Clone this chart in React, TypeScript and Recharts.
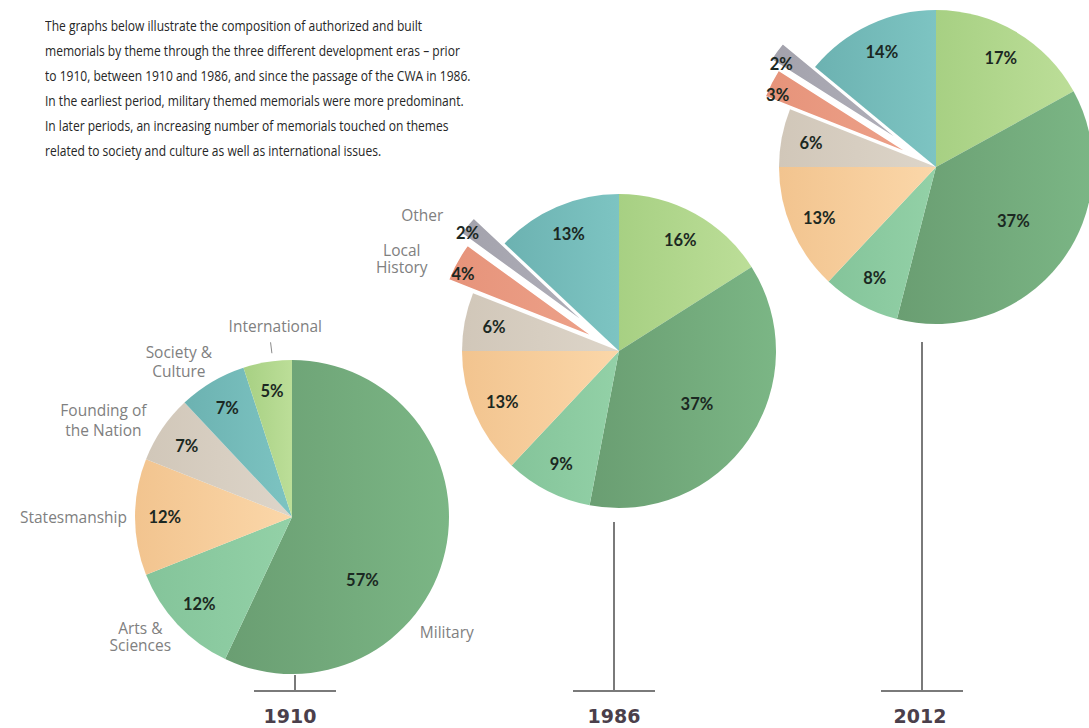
import React from "react";
import { Cell, Pie, PieChart, Sector } from "recharts";

// memorial composition by theme, read clockwise from 12 o'clock
const themes1910 = ["Military", "Arts & Sciences", "Statesmanship", "Founding of the Nation", "Society & Culture", "International"];
const shares1910 = [57, 12, 12, 7, 7, 5];

const themes1986 = ["International", "Military", "Arts & Sciences", "Statesmanship", "Founding of the Nation", "Local History", "Other", "Society & Culture"];
const shares1986 = [16, 37, 9, 13, 6, 4, 2, 13];

const themes2012 = ["International", "Military", "Arts & Sciences", "Statesmanship", "Founding of the Nation", "Local History", "Other", "Society & Culture"];
const shares2012 = [17, 37, 8, 13, 6, 3, 2, 14];

const years = ["1910", "1986", "2012"];

const introLines = [
  "The graphs below illustrate the composition of authorized and built",
  "memorials by theme through the three different development eras \u2013 prior",
  "to 1910, between 1910 and 1986, and since the passage of the CWA in 1986.",
  "In the earliest period, military themed memorials were more predominant.",
  "In later periods, an increasing number of memorials touched on themes",
  "related to society and culture as well as international issues.",
];

// [left shade, right shade]
const themeColors: Record<string, [string, string]> = {
  Military: ["#6a9e72", "#7bb685"],
  "Arts & Sciences": ["#84c49a", "#93d1a7"],
  Statesmanship: ["#f2c48f", "#fbd7a9"],
  "Founding of the Nation": ["#d1c7b9", "#ddd5c9"],
  "Society & Culture": ["#6cb2b1", "#7dc4c2"],
  International: ["#a7d083", "#bcde98"],
  "Local History": ["#e6937a", "#eda189"],
  Other: ["#a3a2ac", "#b0afb9"],
};
const gradId = (name: string) => "g-" + name.replace(/[^A-Za-z]/g, "");

// slices pulled out of the pie, distance in px
const explode: Record<string, number> = { "Local History": 28, Other: 40 };

type NameSpot = { r: number; da: number; anchor: "start" | "middle" | "end"; lines: string[]; gap?: number; tick?: boolean };
type PieLayout = {
  cx: number;
  cy: number;
  r: number;
  stemX: number;
  stemTop: number;
  yearX: number;
  pctNudge?: Record<string, { ratio: number; da: number }>;
  names?: Record<string, NameSpot>;
};

const layouts: PieLayout[] = [
  {
    cx: 292,
    cy: 517,
    r: 157,
    stemX: 295,
    stemTop: 675,
    yearX: 290,
    pctNudge: { Military: { ratio: 0.6, da: -29 } },
    names: {
      Military: { r: 172, da: -29.4, anchor: "start", lines: ["Military"] },
      "Arts & Sciences": { r: 193, da: -5, anchor: "middle", lines: ["Arts &", "Sciences"], gap: 17 },
      Statesmanship: { r: 165, da: 0, anchor: "end", lines: ["Statesmanship"] },
      "Founding of the Nation": { r: 212, da: 7, anchor: "middle", lines: ["Founding of", "the Nation"], gap: 20 },
      "Society & Culture": { r: 192, da: 5.5, anchor: "middle", lines: ["Society &", "Culture"] },
      International: { r: 192, da: -4, anchor: "middle", lines: ["International"], tick: true },
    },
  },
  {
    cx: 619,
    cy: 351,
    r: 157,
    stemX: 614,
    stemTop: 522,
    yearX: 614,
    pctNudge: { Military: { ratio: 0.6, da: 0 }, Other: { ratio: 0.97, da: 2 } },
    names: {
      Other: { r: 222, da: 1.9, anchor: "end", lines: ["Other"] },
      "Local History": { r: 236, da: 5.8, anchor: "middle", lines: ["Local", "History"], gap: 17 },
    },
  },
  {
    cx: 936,
    cy: 167,
    r: 157,
    stemX: 922,
    stemTop: 342,
    yearX: 920,
    pctNudge: { Military: { ratio: 0.6, da: 3 } },
  },
];

const RAD = Math.PI / 180;
const polar = (cx: number, cy: number, r: number, angle: number) => ({
  x: cx + r * Math.cos(-angle * RAD),
  y: cy + r * Math.sin(-angle * RAD),
});

function makeLabel(layout: PieLayout) {
  return (props: any) => {
    const { cx, cy, midAngle, outerRadius, startAngle, endAngle, name, value } = props;
    const off = explode[name] ?? 0;
    const c = polar(cx, cy, off, midAngle);
    const nudge = layout.pctNudge?.[name];
    const ratio = nudge?.ratio ?? (off ? 0.93 : 0.81);
    const da = nudge?.da ?? (off ? 3 : 0);
    const p = polar(c.x, c.y, outerRadius * ratio, midAngle + da);
    const spot = layout.names?.[name];
    let nameNode: React.ReactNode = null;
    if (spot) {
      const t = polar(cx, cy, spot.r, midAngle + spot.da);
      const n = spot.lines.length;
      const gap = spot.gap ?? 19;
      const t1 = polar(cx, cy, outerRadius + 8, midAngle - 2);
      const t2 = polar(cx, cy, outerRadius + 19, midAngle - 2);
      nameNode = (
        <g>
          {spot.tick ? <line x1={t1.x} y1={t1.y} x2={t2.x} y2={t2.y} stroke="#8a8a8a" strokeWidth={1} /> : null}
          <text textAnchor={spot.anchor} fill="#808080" fontFamily="'Open Sans', sans-serif" fontSize={15.5}>
            {spot.lines.map((line, i) => (
              <tspan key={line} x={t.x} y={t.y + (i - (n - 1) / 2) * gap} dominantBaseline="central">
                {line}
              </tspan>
            ))}
          </text>
        </g>
      );
    }
    return (
      <g>
        {off ? (
          <Sector
            cx={c.x}
            cy={c.y}
            innerRadius={0}
            outerRadius={outerRadius}
            startAngle={startAngle}
            endAngle={endAngle}
            fill={`url(#${gradId(name)})`}
            stroke="#ffffff"
            strokeWidth={1.5}
          />
        ) : null}
        <text
          x={p.x}
          y={p.y}
          textAnchor="middle"
          dominantBaseline="central"
          fill="#1b2822"
          fontFamily="Lato, 'Open Sans', sans-serif"
          fontWeight={700}
          fontSize={16.5}
        >
          {`${value}%`}
        </text>
        {nameNode}
      </g>
    );
  };
}

const pieSets = [
  { names: themes1910, shares: shares1910 },
  { names: themes1986, shares: shares1986 },
  { names: themes2012, shares: shares2012 },
];

export default function App() {
  return (
    <div style={{ position: "absolute", left: 0, top: 0, width: 1089, height: 728, background: "#fff", overflow: "hidden" }}>
      <svg width={0} height={0} style={{ position: "absolute" }}>
        <defs>
          {Object.entries(themeColors).map(([name, [a, b]]) => (
            <linearGradient key={name} id={gradId(name)} x1="0" y1="0" x2="1" y2="0">
              <stop offset="0%" stopColor={a} />
              <stop offset="100%" stopColor={b} />
            </linearGradient>
          ))}
        </defs>
      </svg>

      <div
        style={{
          position: "absolute",
          left: 45,
          top: 13,
          fontFamily: "'Open Sans', sans-serif",
          fontSize: 14,
          lineHeight: "25px",
          color: "#262626",
          whiteSpace: "pre",
          transform: "scaleX(0.86)",
          transformOrigin: "left top",
        }}
      >
        {introLines.map((line) => (
          <div key={line}>{line}</div>
        ))}
      </div>

      <div style={{ position: "absolute", left: 0, top: 0 }}>
        <PieChart width={1089} height={728} margin={{ top: 0, right: 0, bottom: 0, left: 0 }}>
          {pieSets.map((set, k) => {
            const layout = layouts[k];
            const data = set.names.map((name, i) => ({ name, value: set.shares[i] }));
            return (
              <Pie
                key={years[k]}
                data={data}
                dataKey="value"
                nameKey="name"
                cx={layout.cx}
                cy={layout.cy}
                innerRadius={0}
                outerRadius={layout.r}
                startAngle={90}
                endAngle={-270}
                stroke="none"
                label={makeLabel(layout)}
                labelLine={false}
                isAnimationActive={false}
              >
                {data.map((d) => (
                  <Cell key={d.name} fill={explode[d.name] ? "transparent" : `url(#${gradId(d.name)})`} />
                ))}
              </Pie>
            );
          })}
        </PieChart>
      </div>

      <svg width={1089} height={728} style={{ position: "absolute", left: 0, top: 0, pointerEvents: "none" }}>
        {layouts.map((layout, k) => (
          <g key={years[k]}>
            <g stroke="#7a7a7a" strokeWidth={2}>
              <line x1={layout.stemX} y1={layout.stemTop} x2={layout.stemX} y2={691} />
              <line x1={layout.stemX - 41} y1={691} x2={layout.stemX + 41} y2={691} />
            </g>
            <text
              x={layout.yearX}
              y={716}
              textAnchor="middle"
              dominantBaseline="central"
              fill="#4b3f4b"
              fontFamily="'DejaVu Sans', sans-serif"
              fontWeight={700}
              fontSize={19}
            >
              {years[k]}
            </text>
          </g>
        ))}
      </svg>
    </div>
  );
}
